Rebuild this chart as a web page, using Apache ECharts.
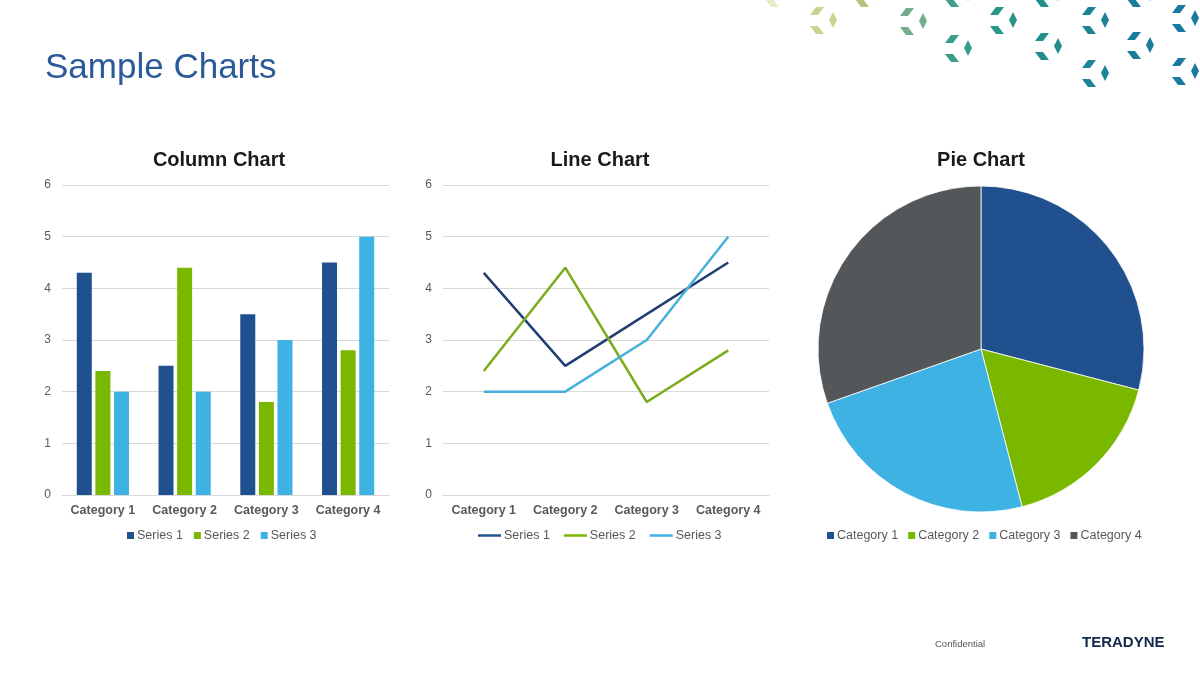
<!DOCTYPE html>
<html>
<head>
<meta charset="utf-8">
<script src="https://cdn.jsdelivr.net/npm/echarts@6/dist/echarts.min.js"></script>
<style>
html,body{margin:0;padding:0;background:#fff;}
#c{width:1200px;height:675px;}
</style>
</head>
<body>
<div id="c"></div>
<script>
// ---- data ----
const categories = ['Category 1', 'Category 2', 'Category 3', 'Category 4'];
const seriesNames = ['Series 1', 'Series 2', 'Series 3'];
const series1 = [4.3, 2.5, 3.5, 4.5];
const series2 = [2.4, 4.4, 1.8, 2.8];
const series3 = [2, 2, 3, 5];
const pieValues = [4.3, 2.5, 3.5, 4.5];
const yTicks = [0, 1, 2, 3, 4, 5, 6];

// ---- styles ----
const barColors = ['#21508f', '#7ab800', '#3db2e3'];
const lineColors = ['#213f73', '#7aac1c', '#48b1da'];
const pieColors = ['#21508f', '#7ab800', '#3db2e3', '#53575a'];
const FONT = 'Liberation Sans, Arial, sans-serif';
const labelGray = '#595959';

// decorative motifs (top-right)
const motifs = [
  [765, -20, '#e6ecc4'], [810, 7, '#c9d58f'], [855, -20, '#b3c27c'],
  [900, 8, '#74ad8c'], [945, -20, '#3f9d8a'], [945, 35, '#3c9c8a'],
  [990, 7, '#2a9689'], [1035, -20, '#1f8e8d'], [1035, 33, '#1f8e8d'],
  [1082, 7, '#1b8497'], [1082, 60, '#1b8497'], [1127, -20, '#1a7d9b'],
  [1127, 32, '#1a7d9b'], [1172, 5, '#1a79a0'], [1172, 58, '#1a79a0']
];
const deco = [];
motifs.forEach(([x, y, c]) => {
  deco.push({type:'polygon', shape:{points:[[x,y+8],[x+6,y],[x+14,y],[x+8,y+8]]}, style:{fill:c}, silent:true});
  deco.push({type:'polygon', shape:{points:[[x,y+19],[x+8,y+19],[x+14,y+27],[x+6,y+27]]}, style:{fill:c}, silent:true});
  deco.push({type:'polygon', shape:{points:[[x+23,y+5],[x+27,y+13],[x+23,y+21],[x+19,y+13]]}, style:{fill:c}, silent:true});
});

const chart = echarts.init(document.getElementById('c'), null, {renderer:'canvas'});

function yAxis(gridIndex) {
  return {
    type:'value', gridIndex, min:0, max:6, interval:1,
    axisLine:{show:false}, axisTick:{show:false},
    axisLabel:{color:labelGray, fontSize:12, fontFamily:FONT, margin:11},
    splitLine:{lineStyle:{color:'#d9d9d9', width:1}}
  };
}
function xAxis(gridIndex) {
  return {
    type:'category', gridIndex, data:categories,
    axisLine:{lineStyle:{color:'#d9d9d9'}}, axisTick:{show:false},
    axisLabel:{interval:0, color:labelGray, fontSize:12.5, fontWeight:'bold', fontFamily:FONT, margin:9}
  };
}
const legendText = {color:labelGray, fontSize:12.5, fontFamily:FONT, padding:[0,0,0,-2]};

const option = {
  animation:false,
  backgroundColor:'#fff',
  textStyle:{fontFamily:FONT},
  title:[
    {text:'Sample Charts', left:40, top:46, textStyle:{fontSize:35, fontWeight:'normal', color:'#2b5a98', fontFamily:FONT}},
    {text:'Column Chart', left:214, top:145, textAlign:'center', textStyle:{fontSize:20, fontWeight:'bold', color:'#1a1a1a', fontFamily:FONT}},
    {text:'Line Chart', left:595, top:145, textAlign:'center', textStyle:{fontSize:20, fontWeight:'bold', color:'#1a1a1a', fontFamily:FONT}},
    {text:'Pie Chart', left:976, top:145, textAlign:'center', textStyle:{fontSize:20, fontWeight:'bold', color:'#1a1a1a', fontFamily:FONT}}
  ],
  legend:[
    {data:seriesNames.map(n=>({name:n})), left:122, top:524, icon:'rect', itemWidth:7, itemHeight:7, itemGap:11,
     textStyle:legendText, selectedMode:false},
    {data:seriesNames.map(n=>({name:n})), left:473, top:524, icon:'rect', itemWidth:23, itemHeight:2.5, itemGap:14,
     textStyle:legendText, selectedMode:false},
    {data:categories.map(n=>({name:n})), left:822, top:524, icon:'rect', itemWidth:7, itemHeight:7, itemGap:10,
     itemStyle:{borderWidth:0}, textStyle:legendText, selectedMode:false}
  ],
  grid:[
    {left:62, top:185, width:327, height:310},
    {left:443, top:185, width:326, height:310}
  ],
  xAxis:[xAxis(0), xAxis(1)],
  yAxis:[yAxis(0), yAxis(1)],
  series:[
    {type:'bar', name:seriesNames[0], xAxisIndex:0, yAxisIndex:0, data:series1, barWidth:15, barGap:'24%', itemStyle:{color:barColors[0]}},
    {type:'bar', name:seriesNames[1], xAxisIndex:0, yAxisIndex:0, data:series2, barWidth:15, barGap:'24%', itemStyle:{color:barColors[1]}},
    {type:'bar', name:seriesNames[2], xAxisIndex:0, yAxisIndex:0, data:series3, barWidth:15, barGap:'24%', itemStyle:{color:barColors[2]}},
    {type:'line', name:seriesNames[0], xAxisIndex:1, yAxisIndex:1, data:series1, showSymbol:false, symbol:'none', lineStyle:{width:2.5, color:lineColors[0]}, itemStyle:{color:lineColors[0]}},
    {type:'line', name:seriesNames[1], xAxisIndex:1, yAxisIndex:1, data:series2, showSymbol:false, symbol:'none', lineStyle:{width:2.5, color:lineColors[1]}, itemStyle:{color:lineColors[1]}},
    {type:'line', name:seriesNames[2], xAxisIndex:1, yAxisIndex:1, data:series3, showSymbol:false, symbol:'none', lineStyle:{width:2.5, color:lineColors[2]}, itemStyle:{color:lineColors[2]}},
    {type:'pie', center:[981, 349], radius:163, startAngle:90, clockwise:true, label:{show:false}, labelLine:{show:false},
     itemStyle:{borderColor:'#ffffff', borderWidth:0.8},
     data:categories.map((c,i)=>({name:c, value:pieValues[i], itemStyle:{color:pieColors[i]}}))}
  ],
  graphic:[
    ...deco,
    {type:'text', left:935, top:639, style:{text:'Confidential', fontSize:9.5, fill:'#555', fontFamily:FONT}},
    {type:'text', left:1082, top:635, style:{text:'TERADYNE', fontSize:15, fontWeight:'bold', fill:'#14284b', fontFamily:FONT}}
  ]
};
chart.setOption(option);
</script>
</body>
</html>
